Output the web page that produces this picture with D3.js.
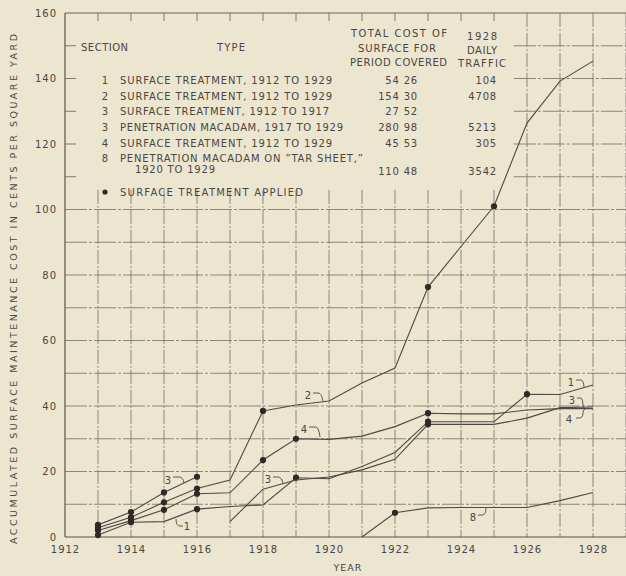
<!DOCTYPE html>
<html>
<head>
<meta charset="utf-8">
<script src="https://cdn.jsdelivr.net/npm/d3@7"></script>
<style>
  html, body { margin: 0; padding: 0; background: #ece5d0; }
  svg { display: block; }
  text { font-family: "DejaVu Sans", "Liberation Sans", sans-serif; fill: #4a4640; }
</style>
</head>
<body>
<svg id="chart" width="626" height="576"></svg>
<script>
// ---------------- DATA ----------------
const years = [1913, 1914, 1915, 1916, 1917, 1918, 1919, 1920, 1921, 1922, 1923, 1924, 1925, 1926, 1927, 1928];
const sec1 = [0.6, 4.5, 4.7, 8.5, 9.3, 9.8, 18.1, 17.8, 21.5, 25.8, 35.2, 35.2, 35.2, 43.6, 43.5, 46.4];
const sec2 = [2.8, 6.0, 10.6, 14.8, 17.4, 38.5, 40.3, 41.5, 47.0, 51.6, 76.3, 88.7, 101.0, 126.4, 139.2, 145.3];
const sec4 = [2.0, 5.0, 8.3, 13.2, 13.5, 23.5, 30.0, 29.8, 30.8, 33.7, 37.8, 37.6, 37.6, 38.8, 39.2, 39.2];
const years3a = [1913, 1914, 1915, 1916];
const sec3a = [3.7, 7.6, 13.6, 18.4];
const years3b = [1917, 1918, 1919, 1920, 1921, 1922, 1923, 1924, 1925, 1926, 1927, 1928];
const sec3b = [4.7, 14.6, 17.4, 18.3, 20.5, 23.7, 34.4, 34.4, 34.4, 36.3, 39.5, 39.7];
const years8 = [1921, 1922, 1923, 1924, 1925, 1926, 1927, 1928];
const sec8 = [0, 7.4, 8.9, 9.0, 9.0, 9.0, 11.1, 13.6];

// years in which surface treatment was applied (dots)
const dots1 = [1913, 1914, 1916, 1919, 1923, 1926];
const dots2 = [1913, 1914, 1915, 1916, 1918, 1923, 1925];
const dots3a = [1913, 1914, 1915, 1916];
const dots3b = [1923];
const dots4 = [1913, 1914, 1915, 1916, 1918, 1919, 1923];
const dots8 = [1922];

const xTickLabels = [1912, 1914, 1916, 1918, 1920, 1922, 1924, 1926, 1928];
const yTickLabels = [0, 20, 40, 60, 80, 100, 120, 140, 160];

const legendSections = ["1", "2", "3", "3", "4", "8"];
const legendTypes = [
  "SURFACE TREATMENT, 1912 TO 1929",
  "SURFACE TREATMENT, 1912 TO 1929",
  "SURFACE TREATMENT, 1912 TO 1917",
  "PENETRATION MACADAM, 1917 TO 1929",
  "SURFACE TREATMENT, 1912 TO 1929",
  "PENETRATION MACADAM ON \u201DTAR SHEET,\u201D"
];
const legendCosts = ["54 26", "154 30", "27 52", "280 98", "45 53", "110 48"];
const legendTraffic = ["104", "4708", "", "5213", "305", "3542"];

// ---------------- LAYOUT ----------------
const svg = d3.select("#chart");
const x = d3.scaleLinear().domain([1912, 1929]).range([65, 626]);
const y = d3.scaleLinear().domain([0, 160]).range([537, 13]);
const ink = "#4a4640";
const gridCol = "#7f7a70";

// grid: horizontal lines
const g = svg.append("g");
d3.range(10, 101, 10).forEach(v => {
  g.append("line").attr("x1", x(1912)).attr("x2", 626).attr("y1", y(v)).attr("y2", y(v))
    .attr("stroke", gridCol).attr("stroke-width", 0.9)
    .attr("stroke-dasharray", "22,2,3,2");
});
d3.range(110, 151, 10).forEach(v => {
  g.append("line").attr("x1", x(1925.6)).attr("x2", 626).attr("y1", y(v)).attr("y2", y(v))
    .attr("stroke", gridCol).attr("stroke-width", 0.9).attr("stroke-dasharray", "22,2,3,2");
  g.append("line").attr("x1", x(1912)).attr("x2", x(1912) + 11).attr("y1", y(v)).attr("y2", y(v))
    .attr("stroke", gridCol);
});
// grid: vertical lines
d3.range(1913, 1930).forEach(yr => {
  const top = yr >= 1926 ? y(160) : y(106);
  g.append("line").attr("x1", x(yr)).attr("x2", x(yr)).attr("y1", top).attr("y2", y(0))
    .attr("stroke", gridCol).attr("stroke-width", 0.9).attr("stroke-dasharray", "14,2,2,2");
  if (yr < 1926) {
    g.append("line").attr("x1", x(yr)).attr("x2", x(yr)).attr("y1", y(160)).attr("y2", y(160) + 8)
      .attr("stroke", gridCol);
  }
});

// frame
svg.append("line").attr("x1", x(1912)).attr("x2", 626).attr("y1", y(160)).attr("y2", y(160)).attr("stroke", "#6a655c");
svg.append("line").attr("x1", x(1912)).attr("x2", x(1912)).attr("y1", y(160)).attr("y2", y(0)).attr("stroke", "#5a554c").attr("stroke-width", 1.2);
svg.append("line").attr("x1", x(1912)).attr("x2", 626).attr("y1", y(0)).attr("y2", y(0)).attr("stroke", "#5a554c").attr("stroke-width", 1.2);

// axes labels via d3 axes (domain/ticks hidden)
const xAxis = svg.append("g").attr("transform", `translate(0,${y(0)})`)
  .call(d3.axisBottom(x).tickValues(xTickLabels).tickFormat(d3.format("d")).tickSize(0).tickPadding(9));
xAxis.select(".domain").remove();
xAxis.selectAll("text").attr("font-size", 10).attr("letter-spacing", 1).style("fill", ink)
  .attr("font-family", "DejaVu Sans");
const yAxis = svg.append("g").attr("transform", `translate(${x(1912)},0)`)
  .call(d3.axisLeft(y).tickValues(yTickLabels).tickFormat(d3.format("d")).tickSize(0).tickPadding(8));
yAxis.select(".domain").remove();
yAxis.selectAll("text").attr("font-size", 10).attr("letter-spacing", 1).style("fill", ink)
  .attr("font-family", "DejaVu Sans");

svg.append("text").attr("x", 348).attr("y", 571).attr("text-anchor", "middle")
  .attr("font-size", 9.5).attr("letter-spacing", 1).text("YEAR");
svg.append("text").attr("transform", "translate(17,289) rotate(-90)").attr("text-anchor", "middle")
  .attr("font-size", 9.5).attr("textLength", 510).attr("lengthAdjust", "spacing")
  .text("ACCUMULATED SURFACE MAINTENANCE COST IN CENTS PER SQUARE YARD");

// ---------------- SERIES ----------------
const line = d3.line().x(d => x(d[0])).y(d => y(d[1]));
const series = [
  { yrs: years, vals: sec1, dots: dots1 },
  { yrs: years, vals: sec2, dots: dots2 },
  { yrs: years3a, vals: sec3a, dots: dots3a },
  { yrs: years3b, vals: sec3b, dots: dots3b },
  { yrs: years, vals: sec4, dots: dots4 },
  { yrs: years8, vals: sec8, dots: dots8 }
];
series.forEach(s => {
  const pts = s.yrs.map((yr, i) => [yr, s.vals[i]]);
  svg.append("path").datum(pts).attr("d", line).attr("fill", "none")
    .attr("stroke", "#4e4a43").attr("stroke-width", 1.1);
  svg.selectAll(null).data(pts.filter(p => s.dots.includes(p[0]))).enter().append("circle")
    .attr("cx", d => x(d[0])).attr("cy", d => y(d[1])).attr("r", 3.1).attr("fill", "#2e2b27");
});

// ---------------- LINE LABELS WITH HOOKS ----------------
function hookLabel(txt, tx, ty, path) {
  svg.append("text").attr("x", tx).attr("y", ty).attr("text-anchor", "middle")
    .attr("font-size", 10).text(txt);
  if (path) svg.append("path").attr("d", path).attr("fill", "none").attr("stroke", "#4e4a43").attr("stroke-width", 0.9);
}
hookLabel("3", 168, 484, "M173,477 L179,477 Q183,477 184,483");
hookLabel("1", 187, 530, "M176,519 Q176,526 180,526 L183,526");
hookLabel("2", 308, 399, "M313,393 L319,393 Q322,394 323,401");
hookLabel("4", 304, 433, "M309,427 L316,427 Q319,428 320,437");
hookLabel("3", 268, 483, "M273,477 L279,477 Q282,478 283,483");
hookLabel("8", 473, 521, "M478,515 L483,515 Q486,514 486,508");
hookLabel("1", 571, 386, "M576,380 L581,380 Q584,381 584,388");
hookLabel("3", 572, 404, "M577,398 L581,398 Q583,399 583,405 Q583,408 585,409 Q583,410 583,413 Q583,418 579,418 L576,418");
hookLabel("4", 569, 423, "");

// ---------------- LEGEND ----------------
const lg = svg.append("g").attr("font-size", 10);
lg.append("text").attr("x", 81).attr("y", 51).attr("textLength", 47).text("SECTION");
lg.append("text").attr("x", 217).attr("y", 51).attr("textLength", 28).text("TYPE");
[["TOTAL COST OF", 351, 37, 96], ["SURFACE FOR", 358, 52, 78], ["PERIOD COVERED", 350, 66, 97],
 ["1928", 467, 40, 30], ["DAILY", 467, 54, 30], ["TRAFFIC", 458, 67, 48]].forEach(h => {
  lg.append("text").attr("x", h[1]).attr("y", h[2]).attr("textLength", h[3]).attr("lengthAdjust", "spacing").text(h[0]);
});
const rowY = [84, 100, 115, 131, 147, 162];
const rowEnd = [332, 332, 329, 343, 332, 363];
legendTypes.forEach((t, i) => {
  lg.append("text").attr("x", 105).attr("y", rowY[i]).attr("text-anchor", "middle").text(legendSections[i]);
  lg.append("text").attr("x", 120).attr("y", rowY[i]).attr("textLength", rowEnd[i] - 120)
    .attr("lengthAdjust", "spacing").text(t);
  lg.append("text").attr("x", 418).attr("y", i === 5 ? 175 : rowY[i]).attr("text-anchor", "end")
    .attr("letter-spacing", 0.8).text(legendCosts[i]);
  lg.append("text").attr("x", 497).attr("y", i === 5 ? 175 : rowY[i]).attr("text-anchor", "end")
    .attr("letter-spacing", 0.8).text(legendTraffic[i]);
});
lg.append("text").attr("x", 135).attr("y", 173).attr("textLength", 80).attr("lengthAdjust", "spacing").text("1920 TO 1929");
lg.append("circle").attr("cx", 105).attr("cy", 192).attr("r", 2.6).attr("fill", "#2e2b27");
lg.append("text").attr("x", 120).attr("y", 196).attr("textLength", 183).attr("lengthAdjust", "spacing").text("SURFACE TREATMENT APPLIED");
</script>
</body>
</html>
